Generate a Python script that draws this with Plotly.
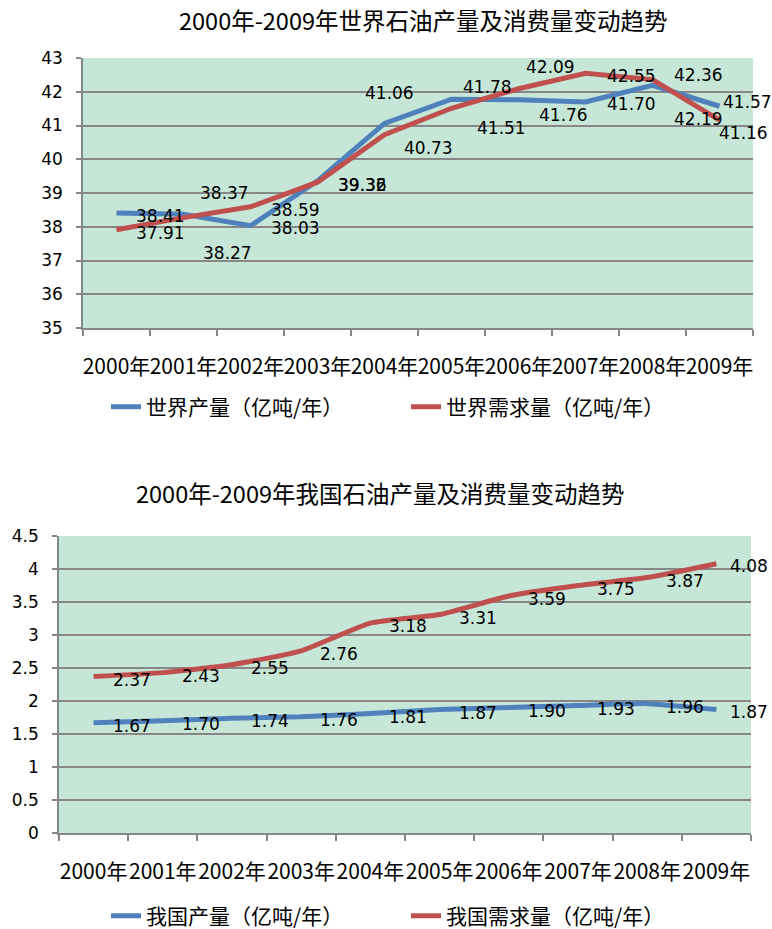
import plotly.graph_objects as go

# ---- data ---------------------------------------------------------------
years = ["2000年", "2001年", "2002年", "2003年", "2004年",
         "2005年", "2006年", "2007年", "2008年", "2009年"]

world_output = [38.41, 38.37, 38.03, 39.36, 41.06, 41.78, 41.76, 41.70, 42.19, 41.57]
world_demand = [37.91, 38.27, 38.59, 39.32, 40.73, 41.51, 42.09, 42.55, 42.36, 41.16]

china_output = [1.67, 1.70, 1.74, 1.76, 1.81, 1.87, 1.90, 1.93, 1.96, 1.87]
china_demand = [2.37, 2.43, 2.55, 2.76, 3.18, 3.31, 3.59, 3.75, 3.87, 4.08]

title_world = "2000年-2009年世界石油产量及消费量变动趋势"
title_china = "2000年-2009年我国石油产量及消费量变动趋势"
name_world_output = "世界产量（亿吨/年）"
name_world_demand = "世界需求量（亿吨/年）"
name_china_output = "我国产量（亿吨/年）"
name_china_demand = "我国需求量（亿吨/年）"

# ---- label placement (pixel offsets from each point) -------------------
world_output_dx = [44, 41, 45, 45, 5, 36, 45, 46, 46, 28]
world_output_dy = [-3, 21, -2, -4, 30, 12, -15, -2, -34, 4]
world_demand_dx = [44, 44, 45, 45, 44, 50, 32, 46, 46, 24]
world_demand_dy = [-3, -35, -3, -3, -13, -20, 22, -3, 5, -13]
china_dx = [38, 38, 38, 38, 38, 38, 38, 38, 38, 33]
china_dy = [-3, -3, -3, -3, -3, -3, -3, -3, -3, -2]

# ---- styles -------------------------------------------------------------
BLUE = "#4F81BD"
RED = "#C0504D"
PLOT_BG = "#C6E7D7"
GRID = "#878787"
CJK = "Noto Sans CJK SC"
NUM = "DejaVu Sans"
W, H = 772, 929

fig = go.Figure()

fig.add_trace(go.Scatter(x=years, y=world_output, mode="lines", name=name_world_output,
                         line=dict(color=BLUE, width=5), xaxis="x", yaxis="y",
                         legend="legend"))
fig.add_trace(go.Scatter(x=years, y=world_demand, mode="lines", name=name_world_demand,
                         line=dict(color=RED, width=5), xaxis="x", yaxis="y",
                         legend="legend"))
fig.add_trace(go.Scatter(x=years, y=china_output, mode="lines", name=name_china_output,
                         line=dict(color=BLUE, width=5, shape="spline", smoothing=0.5),
                         xaxis="x2", yaxis="y2", legend="legend2"))
fig.add_trace(go.Scatter(x=years, y=china_demand, mode="lines", name=name_china_demand,
                         line=dict(color=RED, width=5, shape="spline", smoothing=0.5),
                         xaxis="x2", yaxis="y2", legend="legend2"))

annotations = []


def add_labels(values, dxs, dys, xref, yref):
    for cat, v, dx, dy in zip(years, values, dxs, dys):
        annotations.append(dict(
            x=cat, y=v, xref=xref, yref=yref, text=f"{v:.2f}", showarrow=False,
            xshift=dx, yshift=dy, font=dict(family=NUM, size=17, color="#000000")))


add_labels(world_output, world_output_dx, world_output_dy, "x", "y")
add_labels(world_demand, world_demand_dx, world_demand_dy, "x", "y")
add_labels(china_output, china_dx, china_dy, "x2", "y2")
add_labels(china_demand, china_dx, china_dy, "x2", "y2")

# chart titles
annotations.append(dict(x=424 / W, y=1 - 20 / H, xref="paper", yref="paper",
                        xanchor="center", yanchor="middle",
                        text=title_world, showarrow=False,
                        font=dict(family=CJK, size=23.5, color="#000000")))
annotations.append(dict(x=380 / W, y=1 - 493 / H, xref="paper", yref="paper",
                        xanchor="center", yanchor="middle",
                        text=title_china, showarrow=False,
                        font=dict(family=CJK, size=23.5, color="#000000")))

xaxis_common = dict(type="category", categoryorder="array", categoryarray=years,
                    range=[-0.5, len(years) - 0.5],
                    tickson="boundaries", ticks="outside", ticklen=6, tickwidth=1.5,
                    tickcolor=GRID, showline=True, linecolor=GRID, linewidth=1.5,
                    showgrid=False, zeroline=False, ticklabelstandoff=19, tickangle=0,
                    automargin=False,
                    tickfont=dict(family=CJK, size=21, color="#000000"), fixedrange=True)
yaxis_common = dict(ticks="outside", ticklen=5, tickwidth=1.5, tickcolor=GRID,
                    showline=True, linecolor=GRID, linewidth=1.5, showgrid=True,
                    gridcolor=GRID, gridwidth=1.5, zeroline=False, ticklabelstandoff=10,
                    automargin=False,
                    tickfont=dict(family=NUM, size=17, color="#000000"), fixedrange=True)

fig.update_layout(
    width=W, height=H,
    margin=dict(l=0, r=0, t=0, b=0, autoexpand=False),
    paper_bgcolor="#FFFFFF",
    plot_bgcolor=PLOT_BG,
    xaxis=dict(domain=[83 / W, 753 / W], anchor="y", **xaxis_common),
    yaxis=dict(domain=[1 - 328 / H, 1 - 58 / H], anchor="x", range=[35, 43], dtick=1,
               **yaxis_common),
    xaxis2=dict(domain=[59 / W, 751 / W], anchor="y2", **xaxis_common),
    yaxis2=dict(domain=[1 - 833 / H, 1 - 536 / H], anchor="x2", range=[0, 4.5], dtick=0.5,
                tickformat="~g", **yaxis_common),
    legend=dict(orientation="h", x=106 / W, y=1 - 407 / H, xanchor="left", yanchor="middle",
                entrywidth=255, font=dict(family=CJK, size=21, color="#000000"),
                bgcolor="rgba(0,0,0,0)"),
    legend2=dict(orientation="h", x=106 / W, y=1 - 916 / H, xanchor="left", yanchor="middle",
                 entrywidth=255, font=dict(family=CJK, size=21, color="#000000"),
                 bgcolor="rgba(0,0,0,0)"),
    annotations=annotations,
    showlegend=True,
)

fig.write_html("out.html")
